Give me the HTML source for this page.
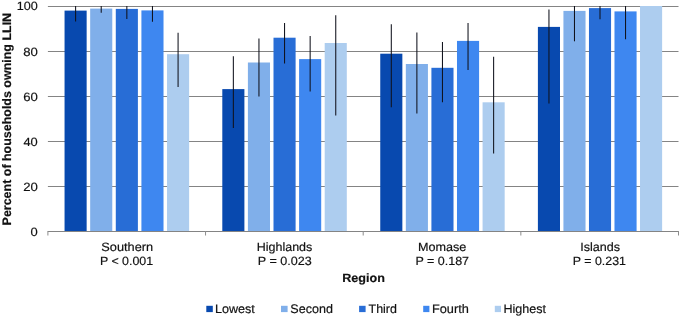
<!DOCTYPE html><html><head><meta charset="utf-8"><style>html,body{margin:0;padding:0;background:#fff}svg{display:block}text{font-family:"Liberation Sans",sans-serif;fill:#111111;text-rendering:geometricPrecision;stroke:#111111;stroke-width:0.18px}</style></head><body>
<svg width="685" height="316" viewBox="0 0 685 316">
<rect width="685" height="316" fill="#fff"/>
<line x1="47.9" x2="678.5" y1="186.50" y2="186.50" stroke="#848484" stroke-width="1"/>
<line x1="47.9" x2="678.5" y1="141.50" y2="141.50" stroke="#848484" stroke-width="1"/>
<line x1="47.9" x2="678.5" y1="96.50" y2="96.50" stroke="#848484" stroke-width="1"/>
<line x1="47.9" x2="678.5" y1="51.50" y2="51.50" stroke="#848484" stroke-width="1"/>
<line x1="47.9" x2="678.5" y1="6.50" y2="6.50" stroke="#848484" stroke-width="1"/>
<rect x="64.55" y="10.60" width="22.1" height="221.40" fill="#0849af"/>
<line x1="75.60" x2="75.60" y1="6.00" y2="21.50" stroke="#10121c" stroke-width="1.05"/>
<rect x="90.17" y="8.60" width="22.1" height="223.40" fill="#80afea"/>
<line x1="101.22" x2="101.22" y1="6.00" y2="12.70" stroke="#10121c" stroke-width="1.05"/>
<rect x="115.79" y="8.90" width="22.1" height="223.10" fill="#286dd6"/>
<line x1="126.84" x2="126.84" y1="6.00" y2="19.00" stroke="#10121c" stroke-width="1.05"/>
<rect x="141.41" y="10.40" width="22.1" height="221.60" fill="#3e87f0"/>
<line x1="152.46" x2="152.46" y1="6.00" y2="21.80" stroke="#10121c" stroke-width="1.05"/>
<rect x="167.03" y="54.20" width="22.1" height="177.80" fill="#adcdef"/>
<line x1="178.08" x2="178.08" y1="32.70" y2="87.10" stroke="#10121c" stroke-width="1.05"/>
<rect x="222.30" y="89.10" width="22.1" height="142.90" fill="#0849af"/>
<line x1="233.35" x2="233.35" y1="56.20" y2="128.10" stroke="#10121c" stroke-width="1.05"/>
<rect x="247.90" y="62.50" width="22.1" height="169.50" fill="#80afea"/>
<line x1="258.95" x2="258.95" y1="38.50" y2="96.50" stroke="#10121c" stroke-width="1.05"/>
<rect x="273.50" y="37.70" width="22.1" height="194.30" fill="#286dd6"/>
<line x1="284.55" x2="284.55" y1="23.00" y2="63.50" stroke="#10121c" stroke-width="1.05"/>
<rect x="299.10" y="59.10" width="22.1" height="172.90" fill="#3e87f0"/>
<line x1="310.15" x2="310.15" y1="36.10" y2="91.50" stroke="#10121c" stroke-width="1.05"/>
<rect x="324.70" y="43.00" width="22.1" height="189.00" fill="#adcdef"/>
<line x1="335.75" x2="335.75" y1="15.20" y2="115.40" stroke="#10121c" stroke-width="1.05"/>
<rect x="380.25" y="53.70" width="22.1" height="178.30" fill="#0849af"/>
<line x1="391.30" x2="391.30" y1="24.30" y2="107.30" stroke="#10121c" stroke-width="1.05"/>
<rect x="405.83" y="64.00" width="22.1" height="168.00" fill="#80afea"/>
<line x1="416.88" x2="416.88" y1="32.40" y2="113.40" stroke="#10121c" stroke-width="1.05"/>
<rect x="431.41" y="67.80" width="22.1" height="164.20" fill="#286dd6"/>
<line x1="442.46" x2="442.46" y1="42.00" y2="102.30" stroke="#10121c" stroke-width="1.05"/>
<rect x="456.99" y="40.90" width="22.1" height="191.10" fill="#3e87f0"/>
<line x1="468.04" x2="468.04" y1="23.00" y2="70.10" stroke="#10121c" stroke-width="1.05"/>
<rect x="482.57" y="102.30" width="22.1" height="129.70" fill="#adcdef"/>
<line x1="493.62" x2="493.62" y1="56.70" y2="153.40" stroke="#10121c" stroke-width="1.05"/>
<rect x="537.90" y="26.90" width="22.1" height="205.10" fill="#0849af"/>
<line x1="548.95" x2="548.95" y1="9.40" y2="103.50" stroke="#10121c" stroke-width="1.05"/>
<rect x="563.43" y="10.90" width="22.1" height="221.10" fill="#80afea"/>
<line x1="574.48" x2="574.48" y1="6.00" y2="41.30" stroke="#10121c" stroke-width="1.05"/>
<rect x="588.96" y="8.10" width="22.1" height="223.90" fill="#286dd6"/>
<line x1="600.01" x2="600.01" y1="6.00" y2="19.20" stroke="#10121c" stroke-width="1.05"/>
<rect x="614.49" y="11.40" width="22.1" height="220.60" fill="#3e87f0"/>
<line x1="625.54" x2="625.54" y1="6.00" y2="39.20" stroke="#10121c" stroke-width="1.05"/>
<rect x="640.02" y="6.00" width="22.1" height="226.00" fill="#adcdef"/>
<line x1="47.9" x2="678.5" y1="231.5" y2="231.5" stroke="#848484" stroke-width="1"/>
<line x1="47.90" x2="47.90" y1="231.0" y2="235.5" stroke="#8c8c8c" stroke-width="1"/>
<line x1="205.55" x2="205.55" y1="231.0" y2="235.5" stroke="#8c8c8c" stroke-width="1"/>
<line x1="363.20" x2="363.20" y1="231.0" y2="235.5" stroke="#8c8c8c" stroke-width="1"/>
<line x1="520.85" x2="520.85" y1="231.0" y2="235.5" stroke="#8c8c8c" stroke-width="1"/>
<line x1="678.50" x2="678.50" y1="231.0" y2="235.5" stroke="#8c8c8c" stroke-width="1"/>
<rect x="206.3" y="305.8" width="6.50" height="6.3" fill="#0849af"/>
<rect x="281.0" y="305.8" width="6.60" height="6.3" fill="#80afea"/>
<rect x="359.1" y="305.8" width="6.50" height="6.3" fill="#286dd6"/>
<rect x="423.2" y="305.8" width="6.20" height="6.3" fill="#3e87f0"/>
<rect x="494.8" y="305.8" width="6.20" height="6.3" fill="#adcdef"/>
<g style="opacity:0.999">
<text id="t0" transform="translate(16.732,10.4) scale(1.0470,1)" font-size="12">100</text>
<text id="t1" transform="translate(23.171,55.5) scale(1.0939,1)" font-size="12">80</text>
<text id="t2" transform="translate(23.171,100.6) scale(1.0939,1)" font-size="12">60</text>
<text id="t3" transform="translate(23.452,145.7) scale(1.0720,1)" font-size="12">40</text>
<text id="t4" transform="translate(23.171,190.8) scale(1.0939,1)" font-size="12">20</text>
<text id="t5" transform="translate(30.461,235.9) scale(1.0783,1)" font-size="12">0</text>
<text id="t6" transform="translate(101.335,250.9) scale(1.0646,1)" font-size="12">Southern</text>
<text id="t7" transform="translate(99.893,264.9) scale(1.0326,1)" font-size="12">P &lt; 0.001</text>
<text id="t8" transform="translate(256.738,250.9) scale(1.0404,1)" font-size="12">Highlands</text>
<text id="t9" transform="translate(257.731,264.9) scale(1.0480,1)" font-size="12">P = 0.023</text>
<text id="t10" transform="translate(417.948,250.9) scale(1.0517,1)" font-size="12">Momase</text>
<text id="t11" transform="translate(415.459,264.9) scale(1.0406,1)" font-size="12">P = 0.187</text>
<text id="t12" transform="translate(580.175,250.9) scale(1.0466,1)" font-size="12">Islands</text>
<text id="t13" transform="translate(572.820,264.9) scale(1.0320,1)" font-size="12">P = 0.231</text>
<text id="t14" transform="translate(342.214,282.3) scale(1.0479,1)" font-size="12" font-weight="bold">Region</text>
<text id="t15" transform="translate(214.908,312.9) scale(1.0170,1)" font-size="12.4">Lowest</text>
<text id="t16" transform="translate(290.368,312.9) scale(1.0117,1)" font-size="12.4">Second</text>
<text id="t17" transform="translate(368.549,312.9) scale(1.0028,1)" font-size="12.4">Third</text>
<text id="t18" transform="translate(431.971,312.9) scale(1.0294,1)" font-size="12.4">Fourth</text>
<text id="t19" transform="translate(503.487,312.9) scale(1.0128,1)" font-size="12.4">Highest</text>
<text id="title" transform="translate(10.8,225.409) rotate(-90) scale(1.0384,1.03)" font-size="12" font-weight="bold">Percent of households owning LLIN</text>
</g>
</svg></body></html>
